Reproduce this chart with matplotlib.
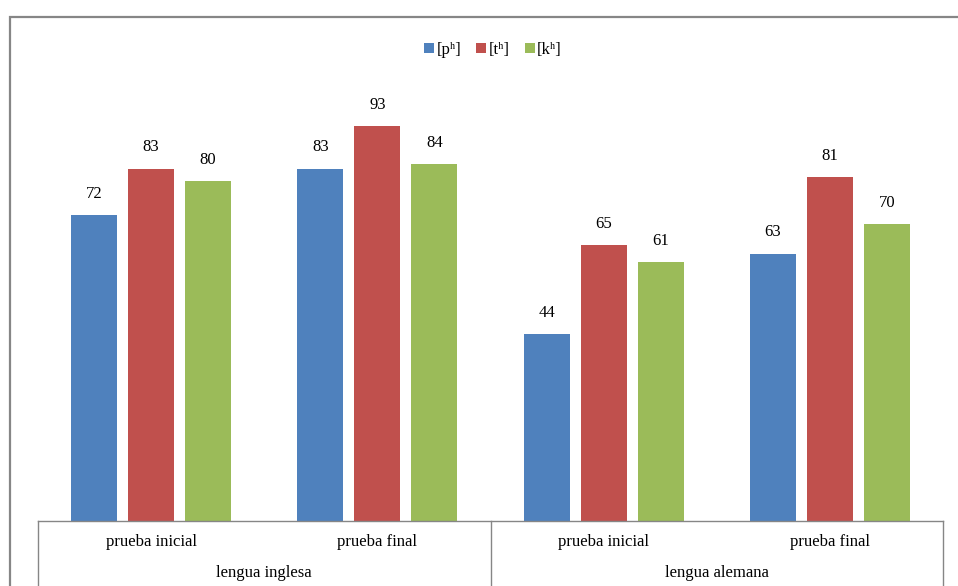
import matplotlib
matplotlib.use("Agg")
import matplotlib.pyplot as plt
import numpy as np
from matplotlib.patches import Rectangle
from matplotlib.transforms import blended_transform_factory

plt.rcParams['font.family'] = ['Liberation Serif', 'DejaVu Serif']

tests = ["prueba inicial", "prueba final", "prueba inicial", "prueba final"]
languages = ["lengua inglesa", "lengua alemana"]
series_names = ["[pʰ]", "[tʰ]", "[kʰ]"]
p_vals = [72, 83, 44, 63]
t_vals = [83, 93, 65, 81]
k_vals = [80, 84, 61, 70]
colors = ["#4F81BD", "#C0504D", "#9BBB59"]

W, H = 958, 586
fig = plt.figure(figsize=(W / 100, H / 100), dpi=100)

# outer chart frame (runs off the right and bottom edges)
fig.patches.append(Rectangle((9.5 / W, -0.1), 1.2, (H - 17.5) / H + 0.1,
                             transform=fig.transFigure, fill=False,
                             edgecolor="#868686", linewidth=1.6))

left, right, bottom, top = 38, 943, 521, 96.5
ax = fig.add_axes([left / W, (H - bottom) / H, (right - left) / W, (bottom - top) / H])

fs = 12
x = np.arange(len(tests))
width = 0.203
step = 0.252
for i, (vals, name, c) in enumerate(zip([p_vals, t_vals, k_vals], series_names, colors)):
    pos = x + (i - 1) * step
    ax.bar(pos, vals, width=width, color=c, label=name, zorder=2)
    for xp, v in zip(pos, vals):
        ax.annotate(f"{v}", (xp, v), xytext=(0, 9.5), textcoords="offset points",
                    ha="center", va="bottom", fontsize=fs, color="#000000")

ax.set_xlim(-0.5, len(tests) - 0.5)
ax.set_ylim(0, 100)
ax.axis("off")

# multi-level category axis
axis_col = "#868686"
tr = blended_transform_factory(ax.transData, ax.transAxes)
ax.plot([-0.5, len(tests) - 0.5], [0, 0], color=axis_col, lw=1, transform=tr, clip_on=False)
for xb in [-0.5, 1.5, 3.5]:
    ax.plot([xb, xb], [0, -0.2], color=axis_col, lw=1, transform=tr, clip_on=False)

y1 = -(542 - bottom) / (bottom - top)
y2 = -(573 - bottom) / (bottom - top)
for xp, lab in zip(x, tests):
    ax.text(xp, y1, lab, transform=tr, ha="center", va="center", fontsize=fs)
for gi, lab in enumerate(languages):
    ax.text(gi * 2 + 0.5, y2, lab, transform=tr, ha="center", va="center", fontsize=fs)

leg = fig.legend(loc="center", bbox_to_anchor=(493 / W, 1 - 50 / H), ncol=3, frameon=False,
                 fontsize=fs, handlelength=0.6, handleheight=0.6, handletextpad=0.15,
                 columnspacing=0.9)

fig.savefig("out.png", dpi=100, facecolor="white")
